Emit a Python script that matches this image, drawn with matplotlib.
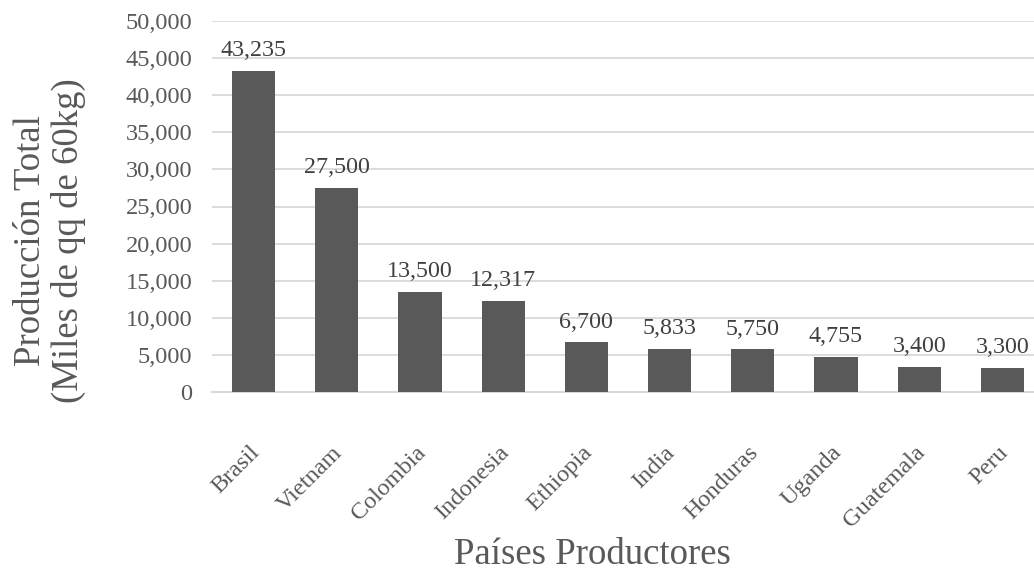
import matplotlib

matplotlib.use("Agg")
import matplotlib.pyplot as plt
import matplotlib.transforms as mtransforms
from matplotlib.ticker import FuncFormatter, MultipleLocator

countries = ["Brasil", "Vietnam", "Colombia", "Indonesia", "Ethiopia",
             "India", "Honduras", "Uganda", "Guatemala", "Peru"]
production = [43235, 27500, 13500, 12317, 6700, 5833, 5750, 4755, 3400, 3300]

BAR_COLOR = "#595959"
TEXT_COLOR = "#595959"
GRID_COLOR = "#d9d9d9"

plt.rcParams["font.family"] = ["Liberation Serif", "DejaVu Serif"]

fig = plt.figure(figsize=(10.34, 5.73), dpi=100)
# plot area in pixel terms: left 212, right runs past the image edge, top 21, bottom 392
ax = fig.add_axes([212 / 1034, (573 - 392) / 573, (1034 - 212) / 1034, (392 - 21) / 573])

positions = list(range(len(countries)))
bars = ax.bar(positions, production, width=0.52, color=BAR_COLOR, zorder=3)

for rect, value in zip(bars, production):
    ax.annotate(f"{value:,}", (rect.get_x() + rect.get_width() / 2, rect.get_height()),
                xytext=(0, 7), textcoords="offset points", ha="center", va="bottom",
                fontsize=17.3, color="#404040")

ax.set_ylim(0, 50000)
ax.set_xlim(-0.5, 9.38)
ax.yaxis.set_major_locator(MultipleLocator(5000))
ax.yaxis.set_major_formatter(FuncFormatter(lambda v, _: f"{int(v):,}"))
ax.grid(axis="y", color=GRID_COLOR, linewidth=1.3, zorder=0)

for side in ("top", "right", "left"):
    ax.spines[side].set_visible(False)
ax.spines["bottom"].set_color(GRID_COLOR)
ax.spines["bottom"].set_linewidth(1.5)

ax.tick_params(axis="y", length=0, pad=14, labelsize=17.6, labelcolor=TEXT_COLOR)
ax.tick_params(axis="x", length=0, pad=36, labelsize=17.5, labelcolor=TEXT_COLOR)
ax.set_xticks(positions)
ax.set_xticklabels(countries, rotation=45, ha="right", rotation_mode="anchor")
shift = mtransforms.ScaledTranslation(-5 / 100, 0, fig.dpi_scale_trans)
for label in ax.get_xticklabels():
    label.set_transform(label.get_transform() + shift)

fig.text(592 / 1034, 1 - 555 / 573, "Países Productores", ha="center", va="center",
         fontsize=26.5, color=TEXT_COLOR)
fig.text(50 / 1034, 1 - 241 / 573, "Producción Total\n(Miles de qq de 60kg)", ha="center",
         va="center", rotation=90, fontsize=26.5, color=TEXT_COLOR, linespacing=1.1)

fig.savefig("out.png", dpi=100)
plt.close(fig)
